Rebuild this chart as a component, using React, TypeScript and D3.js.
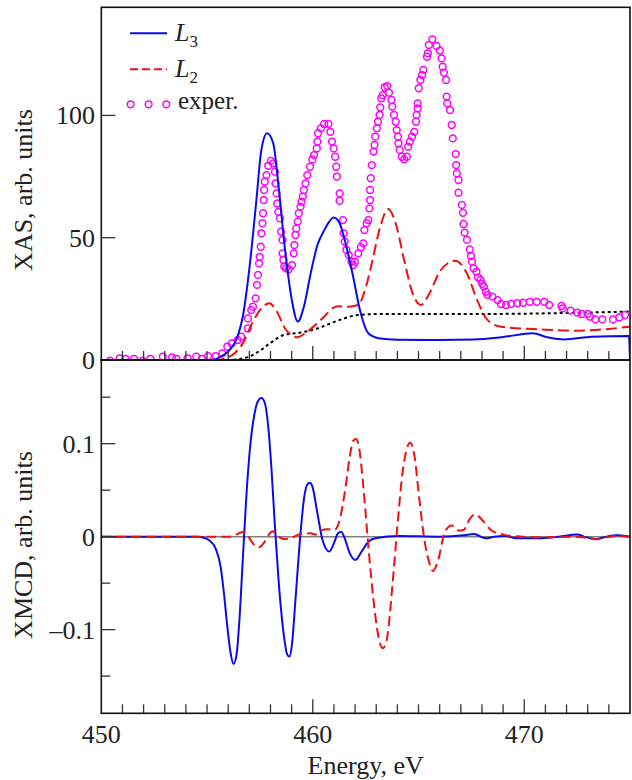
import React from "react";
import * as d3 from "d3";

// ---- Data ----
const xasL3: [number, number][] = [
  [450, 0], [455.2, 0], [455.6, 1.2], [456.04, 3.8], [456.44, 9.5], [456.69, 17.7], [457.01, 38],
  [457.33, 65], [457.57, 86], [457.84, 92.7], [458.13, 88.6], [458.37, 72], [458.69, 45],
  [459.01, 24.5], [459.29, 15.7], [459.58, 21.8], [459.9, 35.4], [460.22, 47], [460.54, 53],
  [460.99, 58.3], [461.27, 55.9], [461.59, 46.3], [461.91, 34], [462.23, 20.4], [462.63, 10.9],
  [463.11, 8.9], [464.0, 8.3], [466.0, 8.2], [467.6, 8.4], [469.0, 9.4], [470.4, 10.9],
  [471.1, 9.3], [471.9, 8.4], [473.2, 9.5], [474.95, 9.8], [475, 0],
];
const xasL2: [number, number][] = [
  [450, 0], [455.4, 0], [455.9, 0.8], [456.3, 2.8], [456.69, 6.8], [457.17, 15.7], [457.57, 21.1],
  [457.94, 23.2], [458.3, 19.8], [458.69, 12.9], [459.26, 9.3], [459.74, 11.6], [460.38, 16.4],
  [461.18, 22], [461.67, 21.8], [462.15, 22.5], [462.47, 28.6], [462.79, 39.5], [463.19, 54.5],
  [463.56, 61.7], [463.92, 55.9], [464.32, 40.9], [464.72, 27.3], [465.12, 22.5], [465.52, 27.3],
  [466.0, 36.1], [466.73, 40.6], [467.29, 35.4], [467.77, 24.5], [468.26, 16.4], [468.9, 13.6],
  [470.83, 12.5], [472.43, 12], [475, 13.6],
];
const xasStep: [number, number][] = [
  [450, 0], [456.0, 0], [456.5, 0.4], [457.0, 1.4], [457.5, 3.8], [457.97, 6.8], [458.62, 10.2],
  [459.42, 11.2], [460.22, 12.9], [461.18, 16.1], [462.15, 18.4], [463.11, 18.8], [467.6, 18.8],
  [475, 19.8],
];
const xasExpE: number[] = [
  450.42, 450.87, 451.14, 451.55, 451.95, 452.32, 452.91, 453.35, 453.55, 454.08, 454.49, 454.76,
  455.05, 455.4, 455.72, 455.96, 456.17, 456.45, 456.61, 456.93, 456.93, 457.09, 457.17, 457.3,
  457.36, 457.41, 457.46, 457.49, 457.54, 457.57, 457.62, 457.65, 457.68, 457.7, 457.73, 457.81,
  457.89, 458.02, 458.13, 458.21, 458.24, 458.29, 458.32, 458.37, 458.45, 458.5, 458.57, 458.57,
  458.61, 458.65, 458.74, 458.86, 459.02, 459.1, 459.13, 459.18, 459.22, 459.29, 459.34, 459.42,
  459.47, 459.53, 459.58, 459.66, 459.74, 459.87, 459.98, 460.06, 460.19, 460.22, 460.25, 460.38,
  460.54, 460.74, 460.83, 460.91, 460.99, 461.06, 461.11, 461.14, 461.27, 461.27, 461.43, 461.46,
  461.51, 461.59, 461.7, 461.83, 461.91, 461.99, 462.15, 462.28, 462.39, 462.44, 462.55, 462.63,
  462.68, 462.71, 462.71, 462.74, 462.79, 462.87, 462.92, 462.95, 463.03, 463.08, 463.16, 463.19,
  463.24, 463.31, 463.4, 463.52, 463.6, 463.72, 463.76, 463.84, 463.92, 463.97, 464.03, 464.05,
  464.11, 464.21, 464.32, 464.45, 464.51, 464.59, 464.69, 464.8, 464.88, 464.91, 464.96, 464.96,
  465.01, 465.09, 465.17, 465.23, 465.4, 465.44, 465.49, 465.65, 465.85, 466.01, 466.09, 466.14,
  466.2, 466.3, 466.33, 466.36, 466.49, 466.57, 466.62, 466.76, 466.78, 466.81, 466.89, 466.89,
  467.05, 467.1, 467.13, 467.18, 467.29, 467.42, 467.48, 467.53, 467.61, 467.74, 467.81, 467.93,
  468.01, 468.09, 468.18, 468.26, 468.5, 468.74, 468.9, 469.14, 469.38, 469.67, 469.94, 470.26,
  470.59, 470.95, 471.18, 471.76, 471.82, 472.19, 472.51, 472.72, 472.99, 473.11, 473.36, 473.69,
  474.2, 474.49, 474.76,
];
const xasExpV: number[] = [
  -0.3, 0.7, 0.5, 0.5, -0.3, 0.5, 1.4, 1.1, 0.5, 0.7, 1.4, 0.5,
  1.6, 1.6, 2.7, 5.5, 6.8, 8.2, 9.5, 12.9, 17, 20.4, 21.8, 25.2,
  30.7, 34.8, 39.5, 42.2, 46.3, 51.8, 55.9, 60, 65.4, 69.5, 72.9, 75.6,
  79.4, 81.4, 80.4, 77, 72.2, 68.1, 64, 60.6, 57.9, 52.5, 49.1, 43.6,
  40.9, 38.2, 37.5, 37.1, 38.8, 43.6, 47, 51.1, 53.8, 56.6, 60, 62.7,
  64.7, 66.8, 69.5, 72.2, 75.6, 79, 82, 83.8, 86.5, 89.3, 92.7, 94.7,
  96.5, 96.5, 93.3, 89.3, 86.5, 83.1, 79, 75, 68.1, 65.1, 57.2, 51.8,
  48.4, 45, 42.9, 40.2, 38.8, 40.2, 43.6, 46.1, 47.7, 53.1, 55.9, 57.2,
  62, 65.4, 69.5, 74.3, 79.7, 85.2, 87.9, 91.3, 94.7, 97.4, 100.2, 103.3,
  107, 108.3, 111.5, 112, 109.3, 106.3, 103.6, 100.2, 97.4, 94, 91.3, 88.6,
  85.9, 83.1, 82, 83.1, 87.2, 89.3, 91.3, 93.3, 97.4, 100.2, 102.9, 104.9,
  111.1, 114.5, 116.5, 118.6, 124, 125.4, 128.8, 131.1, 128.4, 126.5, 123.3, 119.9,
  117.5, 114.5, 107.7, 104.9, 102.2, 96.1, 90.6, 84.2, 79.7, 76.3, 73.6, 68.4,
  63.4, 60.2, 55.6, 52.1, 49.1, 45.2, 42.5, 40.2, 37.5, 36.1, 33.8, 32.7,
  31.1, 30, 27.9, 26.6, 25.9, 24.5, 22.9, 22.5, 22.9, 23.2, 23.4, 23.8,
  23.8, 23.8, 22.5, 22.1, 21.1, 20.2, 19.4, 18.8, 18.8, 17.7, 16.6, 16.6,
  16.6, 17.4, 18.4,
];
const xmcdL3: [number, number][] = [
  [450, 0], [454.6, 0], [454.76, -0.0007], [455.08, -0.0036], [455.4, -0.0126], [455.64, -0.032],
  [455.8, -0.061], [455.96, -0.097], [456.12, -0.126], [456.25, -0.137], [456.4, -0.126],
  [456.53, -0.09], [456.69, -0.025], [456.85, 0.04], [457.01, 0.09], [457.25, 0.133],
  [457.41, 0.146], [457.57, 0.149], [457.73, 0.144], [457.89, 0.119], [458.05, 0.072],
  [458.21, 0.011], [458.37, -0.043], [458.62, -0.104], [458.78, -0.126], [458.89, -0.129],
  [459.02, -0.115], [459.18, -0.068], [459.42, 0.0036], [459.58, 0.04], [459.74, 0.056],
  [459.85, 0.058], [459.98, 0.054], [460.22, 0.025], [460.46, -0.0036], [460.78, -0.016],
  [461.03, -0.0054], [461.19, 0.0036], [461.35, 0.0054], [461.51, -0.0018], [461.75, -0.018],
  [462.02, -0.025], [462.31, -0.016], [462.63, -0.0054], [462.95, -0.0018], [464.08, 0.0007],
  [466.0, 0], [467.13, 0.0014], [467.61, 0.0029], [468.18, -0.0018], [468.58, 0], [469.06, 0.0007],
  [469.7, -0.0018], [470.66, -0.0018], [471.63, 0], [472.51, 0.0022], [472.83, 0], [473.4, -0.0025],
  [473.88, 0], [474.36, 0.0014], [475, 0],
];
const xmcdL2: [number, number][] = [
  [450, 0], [456.0, 0], [456.2, 0.0003], [456.45, 0.003], [456.69, 0.005], [456.93, 0.0007],
  [457.17, -0.0072], [457.46, -0.0115], [457.73, -0.0054], [457.97, 0.0036], [458.1, 0.0058],
  [458.29, 0.0018], [458.62, -0.0025], [458.94, -0.0018], [459.42, 0.0029], [459.9, 0.0036],
  [460.14, 0.0022], [460.38, 0.0065], [460.7, 0.0079], [461.03, 0.0072], [461.27, 0.018],
  [461.51, 0.047], [461.75, 0.086], [461.91, 0.103], [462.04, 0.105], [462.18, 0.097],
  [462.39, 0.054], [462.63, -0.011], [462.87, -0.068], [463.11, -0.108], [463.32, -0.12],
  [463.52, -0.108], [463.76, -0.054], [464.0, 0.011], [464.24, 0.068], [464.45, 0.095],
  [464.61, 0.101], [464.8, 0.088], [465.04, 0.04], [465.28, -0.0036], [465.52, -0.029],
  [465.68, -0.037], [465.93, -0.025], [466.25, 0.0054], [466.57, 0.012], [466.89, 0.0065],
  [467.13, 0.0072], [467.45, 0.02], [467.69, 0.024], [468.01, 0.018], [468.42, 0.0072],
  [468.9, 0.0029], [469.38, 0.0007], [470.83, -0.0007], [472.43, 0], [473.08, -0.0018],
  [473.4, -0.0029], [473.88, -0.0007], [474.36, 0.0007], [475, 0],
];
const xTickLabels = [450, 460, 470];
const xasTickLabels = [0, 50, 100];
const xmcdTickLabels = [-0.1, 0, 0.1];
const xmcdMinorTicks = [-0.15, -0.05, 0.05, 0.15];
const legendLabels = ["3", "2", "exper."];

// ---- Layout ----
const W = 632, H = 780;
const L = 101.3, R = 630;
const T1 = 7.3, B1 = 360, T2 = 360, B2 = 713.3;
const FONT = "'Liberation Serif', 'Times New Roman', serif";
const BLUE = "#0a0af0", RED = "#f01010", MAG = "#ff00ff";

export default function App() {
  const x = d3.scaleLinear().domain([450, 475]).range([L, R]);
  const yTop = d3.scaleLinear().domain([0, 144.2]).range([B1, T1]);
  const yBot = d3.scaleLinear().domain([-0.19, 0.19]).range([B2, T2]);

  const lineTop = d3.line<[number, number]>().x(d => x(d[0])).y(d => yTop(d[1])).curve(d3.curveMonotoneX);
  const lineBot = d3.line<[number, number]>().x(d => x(d[0])).y(d => yBot(d[1])).curve(d3.curveMonotoneX);

  const minorX = d3.range(451, 475);
  const tickColor = "#333";

  return (
    <svg width={W} height={H} style={{ position: "absolute", left: 0, top: 0, background: "#fff" }}
      fontFamily={FONT}>
      <defs>
        <clipPath id="c1"><rect x={L} y={T1} width={R - L} height={B1 - T1} /></clipPath>
        <clipPath id="c2"><rect x={L} y={T2} width={R - L} height={B2 - T2} /></clipPath>
      </defs>

      {/* top panel */}
      <g clipPath="url(#c1)">
        <path d={lineTop(xasStep) || ""} fill="none" stroke="#000" strokeWidth={2} strokeDasharray="3,3" />
        {xasExpE.map((e, i) => (
          <circle key={i} cx={x(e)} cy={yTop(xasExpV[i])} r={3.4} fill="none" stroke={MAG} strokeWidth={1.5} />
        ))}
        <path d={lineTop(xasL2) || ""} fill="none" stroke={RED} strokeWidth={2} strokeDasharray="11,5" />
        <path d={lineTop(xasL3) || ""} fill="none" stroke={BLUE} strokeWidth={2} />
      </g>

      {/* bottom panel */}
      <g clipPath="url(#c2)">
        <line x1={L} x2={R} y1={yBot(0)} y2={yBot(0)} stroke="#808080" strokeWidth={1.5} />
        <path d={lineBot(xmcdL3) || ""} fill="none" stroke={BLUE} strokeWidth={2} />
        <path d={lineBot(xmcdL2) || ""} fill="none" stroke={RED} strokeWidth={2} strokeDasharray="10,5" />
      </g>

      {/* x ticks on both panels */}
      {[B1, B2].map((b, j) => (
        <g key={j}>
          {minorX.map(v => {
            const major = v % 10 === 0;
            return <line key={v} x1={x(v)} x2={x(v)} y1={b} y2={b - (major ? 14 : 9)} stroke={tickColor} strokeWidth={1.3} />;
          })}
        </g>
      ))}

      {/* y ticks top */}
      {xasTickLabels.map(v => (
        <g key={v}>
          <line x1={L} x2={L + 14} y1={yTop(v)} y2={yTop(v)} stroke={tickColor} strokeWidth={1.3} />
          <text x={95} y={yTop(v) + 9} textAnchor="end" fontSize={26} fill="#222">{v}</text>
        </g>
      ))}
      {/* y ticks bottom */}
      {xmcdTickLabels.map(v => (
        <g key={v}>
          <line x1={L} x2={L + 14} y1={yBot(v)} y2={yBot(v)} stroke={tickColor} strokeWidth={1.3} />
          <text x={95} y={yBot(v) + 9} textAnchor="end" fontSize={26} fill="#222">
            {v === 0 ? "0" : v < 0 ? "\u2013" + Math.abs(v) : String(v)}
          </text>
        </g>
      ))}
      {xmcdMinorTicks.map(v => (
        <line key={v} x1={L} x2={L + 9} y1={yBot(v)} y2={yBot(v)} stroke={tickColor} strokeWidth={1.3} />
      ))}

      {/* frames */}
      <rect x={L} y={T1} width={R - L} height={B1 - T1} fill="none" stroke="#111" strokeWidth={1.6} />
      <rect x={L} y={T2} width={R - L} height={B2 - T2} fill="none" stroke="#111" strokeWidth={1.6} />

      {/* x tick labels */}
      {xTickLabels.map(v => (
        <text key={v} x={x(v)} y={742.5} textAnchor="middle" fontSize={26} fill="#222">{v}</text>
      ))}
      <text x={(L + R) / 2} y={774} textAnchor="middle" fontSize={26} fill="#222">Energy, eV</text>

      {/* y titles */}
      <text transform={`translate(32,190) rotate(-90)`} textAnchor="middle" fontSize={26} fill="#222">XAS, arb. units</text>
      <text transform={`translate(32,545) rotate(-90)`} textAnchor="middle" fontSize={26} fill="#222">XMCD, arb. units</text>

      {/* legend */}
      <g>
        <line x1={130} x2={167} y1={33.3} y2={33.3} stroke={BLUE} strokeWidth={2} />
        <text x={175} y={41} fontSize={26} fill="#222">
          <tspan fontStyle="italic">L</tspan>
          <tspan fontSize={17} dy={6}>{legendLabels[0]}</tspan>
        </text>
        <line x1={130} x2={167} y1={69.3} y2={69.3} stroke={RED} strokeWidth={2} strokeDasharray="8,4" />
        <text x={175} y={77} fontSize={26} fill="#222">
          <tspan fontStyle="italic">L</tspan>
          <tspan fontSize={17} dy={6}>{legendLabels[1]}</tspan>
        </text>
        {[130.6, 148.6, 166.3].map((cx, i) => (
          <circle key={i} cx={cx} cy={104.3} r={3.4} fill="none" stroke={MAG} strokeWidth={1.5} />
        ))}
        <text x={178} y={109} fontSize={25} fill="#222">{legendLabels[2]}</text>
      </g>
    </svg>
  );
}
